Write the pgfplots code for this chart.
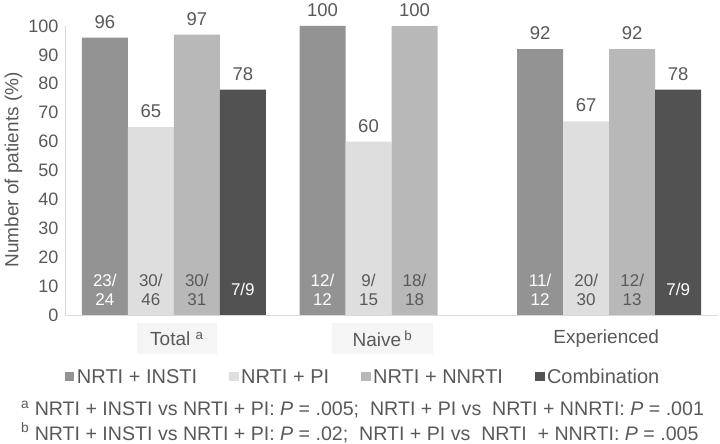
\documentclass[border=0pt]{standalone}
\usepackage{fontspec}
\setmainfont{Liberation Sans}
\usepackage{pgfplots}
\pgfplotsset{compat=1.18}

\definecolor{cInsti}{HTML}{939393}
\definecolor{cPi}{HTML}{DEDEDE}
\definecolor{cNnrti}{HTML}{B8B8B8}
\definecolor{cComb}{HTML}{525252}
\definecolor{txt}{HTML}{595959}
\definecolor{axl}{HTML}{D9D9D9}
\definecolor{lblbg}{HTML}{F5F5F5}

\newcommand{\fs}[1]{\fontsize{#1}{#1}\selectfont}

\begin{document}
\begin{tikzpicture}
\begin{axis}[
    at={(0,0)}, anchor=south west,
    scale only axis, width=653pt, height=289pt,
    ybar=0pt, bar width=46pt,
    xmin=-0.5, xmax=2.5, ymin=0, ymax=100,
    xtick=\empty,
    ytick={0,10,...,100},
    axis lines*=left,
    axis line style={draw=axl, line width=0.8pt},
    major tick length=0pt,
    /pgf/number format/assume math mode=true,
    yticklabel style={font=\fs{18}, text=txt, xshift=-3pt},
    ylabel={Number of patients (\%)},
    ylabel style={font=\fs{19}, text=txt, at={(axis description cs:-0.079,0.502)}, anchor=center},
    nodes near coords,
    every node near coord/.append style={font=\fs{18.5}, text=txt, inner sep=0pt, yshift=9pt, anchor=south},
    legend style={at={(axis description cs:0,-0.2145)}, anchor=west, draw=none, fill=none,
        inner sep=0pt, outer sep=0pt,
        legend columns=4, font=\fs{20}, text=txt,
        /tikz/every even column/.append style={column sep=30pt}},
    legend image code/.code={\fill[#1] (0pt,-4.5pt) rectangle (9.5pt,4.5pt); \path (10pt,0pt);},
    clip=false,
]
\addplot[fill=cInsti, draw=none] coordinates {(0,96) (1,100) (2,92)};
\addlegendentry{NRTI + INSTI}
\addplot[fill=cPi, draw=none] coordinates {(0,65) (1,60) (2,67)};
\addlegendentry{NRTI + PI}
\addplot[fill=cNnrti, draw=none] coordinates {(0,97) (1,100) (2,92)};
\addlegendentry{NRTI + NNRTI}
\addplot[fill=cComb, draw=none] coordinates {(0,78) (2,78)};
\addlegendentry{Combination}

% counts inside the bars
\begin{scope}[every node/.style={font=\fs{17}, align=center, inner sep=0pt}]
\node[text=white] at (axis cs:0,8.65) [xshift=-69pt] {23/\\[2pt]24};
\node[text=txt]   at (axis cs:0,8.65) [xshift=-23pt] {30/\\[2pt]46};
\node[text=txt]   at (axis cs:0,8.65) [xshift=23pt]  {30/\\[2pt]31};
\node[text=white] at (axis cs:0,9)    [xshift=69pt]  {7/9};
\node[text=white] at (axis cs:1,8.65) [xshift=-69pt] {12/\\[2pt]12};
\node[text=txt]   at (axis cs:1,8.65) [xshift=-23pt] {9/\\[2pt]15};
\node[text=txt]   at (axis cs:1,8.65) [xshift=23pt]  {18/\\[2pt]18};
\node[text=white] at (axis cs:2,8.65) [xshift=-69pt] {11/\\[2pt]12};
\node[text=txt]   at (axis cs:2,8.65) [xshift=-23pt] {20/\\[2pt]30};
\node[text=txt]   at (axis cs:2,8.65) [xshift=23pt]  {12/\\[2pt]13};
\node[text=white] at (axis cs:2,9)    [xshift=69pt]  {7/9};
\end{scope}

% category labels
\begin{scope}[every node/.style={font=\fs{19}, text=txt, anchor=center}]
\node[fill=lblbg, minimum width=80pt, minimum height=31pt] at (axis cs:0,0) [xshift=3pt, yshift=-23.5pt] {Total \textsuperscript{a}};
\node[fill=lblbg, minimum width=101pt, minimum height=31pt] at (axis cs:1,0) [xshift=-9pt, yshift=-23.5pt] {Naive\,\textsuperscript{b}};
\node at (axis cs:2,0) [xshift=-3pt, yshift=-23.5pt] {Experienced};
\end{scope}

% footnotes
\node[anchor=west, align=left, font=\fs{19.6}, text=txt, inner sep=0pt]
  at (axis description cs:0,0) [xshift=-44pt, yshift=-107pt]
  {\textsuperscript{a} NRTI + INSTI vs NRTI + PI: \textit{P} = .005;\ \ NRTI + PI vs\ \ NRTI + NNRTI: \textit{P} = .001\\[3.5pt]
   \textsuperscript{b} NRTI + INSTI vs NRTI + PI: \textit{P} = .02;\ \ NRTI + PI vs\ \ NRTI\ \ + NNRTI: \textit{P} = .005};
\end{axis}
\useasboundingbox (-65pt,-129pt) rectangle (655pt,315pt);
\end{tikzpicture}
\end{document}
